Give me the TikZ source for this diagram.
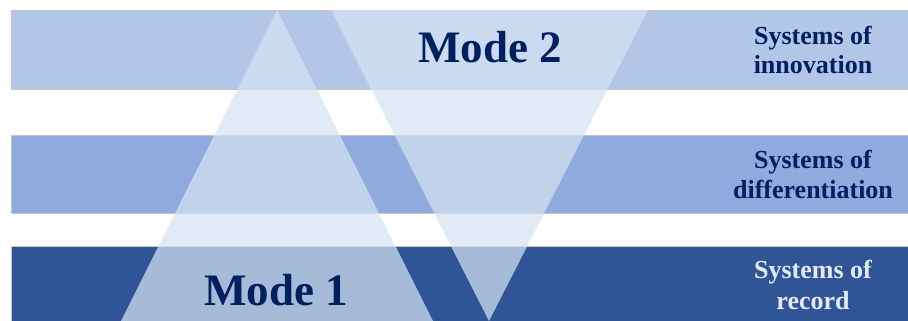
\documentclass[tikz,border=0pt]{standalone}
\usepackage{fontspec}
\setmainfont{Liberation Serif}
\definecolor{bandA}{HTML}{B4C6E7}
\definecolor{bandB}{HTML}{8FAADC}
\definecolor{bandC}{HTML}{2F5597}
\definecolor{triFill}{HTML}{D5E3F1}
\definecolor{navy}{HTML}{002060}
\definecolor{lightTxt}{HTML}{E4EAF5}
\definecolor{edgeGray}{HTML}{C4C4C4}
\tikzset{
  band/.style={draw=edgeGray, line width=0.9pt},
  tri/.style={fill=triFill, fill opacity=0.72, draw=none},
  modetxt/.style={font=\fontsize{45}{50}\selectfont\bfseries, text=navy, inner sep=0pt, anchor=base},
  systxt/.style={font=\fontsize{26}{29}\selectfont\bfseries, inner sep=0pt, anchor=base},
}
\begin{document}
\begin{tikzpicture}[x=1pt,y=-1pt]
\useasboundingbox (0,0) rectangle (908,321);
% bands
\path[band, fill=bandA] (11,10) rectangle (909,89);
\path[band, fill=bandB] (11,135) rectangle (909,213);
\path[band, fill=bandC] (11,246) rectangle (909,323);
% triangles
\coordinate (m1apex) at (277,10);
\coordinate (m1left) at (121,321);
\coordinate (m1right) at (433,321);
\coordinate (m2left) at (331,10);
\coordinate (m2right) at (648,10);
\coordinate (m2tip) at (489,321);
\fill[tri] (m1apex) -- (m1right) -- (m1left) -- cycle;
\fill[tri] (m2left) -- (m2right) -- (m2tip) -- cycle;
% mode labels
\node[modetxt] (mode2) at (490,63) {Mode 2};
\node[modetxt] (mode1) at (276,305) {Mode 1};
% right labels
\node[systxt, text=navy] (innovA) at (813,45) {Systems of};
\node[systxt, text=navy] (innovB) at (813,74) {innovation};
\node[systxt, text=navy] (diffA) at (813,168) {Systems of};
\node[systxt, text=navy] (diffB) at (813,198) {differentiation};
\node[systxt, text=lightTxt] (recA) at (813,278) {Systems of};
\node[systxt, text=lightTxt] (recB) at (813,309) {record};
\end{tikzpicture}
\end{document}
